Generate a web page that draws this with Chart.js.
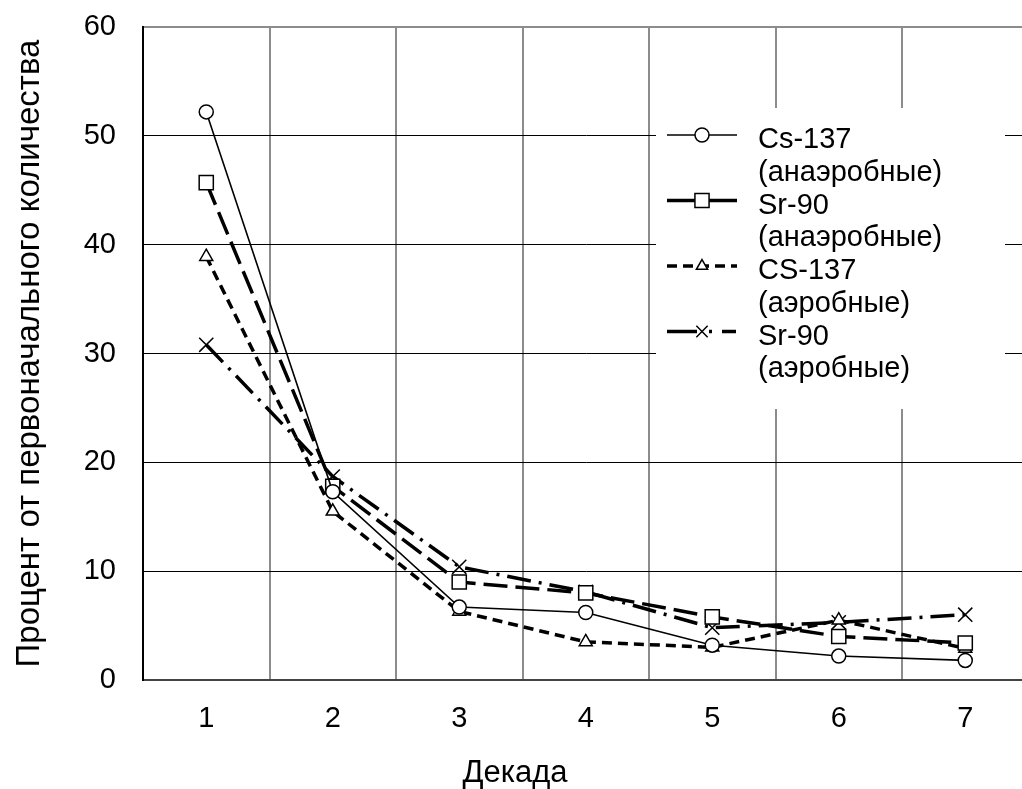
<!DOCTYPE html>
<html>
<head>
<meta charset="utf-8">
<script src="https://cdn.jsdelivr.net/npm/chart.js@4.4.1/dist/chart.umd.min.js"></script>
<style>
  html, body { margin: 0; padding: 0; background: #fff; overflow: hidden; }
  #wrap { width: 1040px; height: 789px; }
</style>
</head>
<body>
<div id="wrap"><canvas id="decayChart" width="1040" height="789"></canvas></div>
<script>
// --- данные ---
const decades = ['1', '2', '3', '4', '5', '6', '7'];
const yTicks = [0, 10, 20, 30, 40, 50, 60];

const cs137Anaerobic = [52.2, 17.3, 6.7, 6.2, 3.2, 2.2, 1.8];
const sr90Anaerobic  = [45.7, 17.8, 9.0, 8.0, 5.8, 4.0, 3.4];
const cs137Aerobic   = [38.9, 15.5, 6.3, 3.5, 3.0, 5.5, 2.9];
const sr90Aerobic    = [30.8, 18.7, 10.4, 8.1, 4.8, 5.3, 6.0];

const legendLines = [
    ['Cs-137', '(анаэробные)'],
    ['Sr-90', '(анаэробные)'],
    ['CS-137', '(аэробные)'],
    ['Sr-90', '(аэробные)']
];
const xTitle = 'Декада';

const FONT = '"Liberation Sans", Arial, sans-serif';

function makeSet(label, data, dash, width, style, radius) {
    return {
        label: label,
        data: data,
        borderColor: '#000',
        borderWidth: width,
        borderDash: dash,
        backgroundColor: '#fff',
        pointStyle: style,
        pointRadius: radius,
        pointHoverRadius: radius,
        pointBorderColor: '#000',
        pointBackgroundColor: '#fff',
        pointBorderWidth: 1.5,
        tension: 0,
        fill: false
    };
}

// легенда и подпись оси X рисуются вручную
const legendBox = {
    id: 'legendBox',
    afterDraw(chart) {
        const ctx = chart.ctx;
        ctx.save();
        ctx.fillStyle = '#fff';
        ctx.fillRect(656, 108, 349, 301);
        chart.data.datasets.forEach((ds, i) => {
            const textY = 140 + i * 65.5;
            const lineY = textY - 5;
            ctx.strokeStyle = '#000';
            ctx.lineWidth = ds.borderWidth;
            ctx.setLineDash(ds.legendDash || ds.borderDash || []);
            ctx.beginPath();
            ctx.moveTo(667, lineY);
            ctx.lineTo(737, lineY);
            ctx.stroke();
            ctx.setLineDash([]);
            ctx.fillStyle = '#fff';
            ctx.strokeStyle = '#000';
            ctx.lineWidth = 1.5;
            Chart.helpers.drawPoint(ctx, {
                pointStyle: ds.pointStyle,
                radius: ds.legendRadius || ds.pointRadius,
                borderWidth: 1.5
            }, 702, lineY);
            ctx.fillStyle = '#000';
            ctx.font = '29px ' + FONT;
            ctx.textBaseline = 'middle';
            ctx.textAlign = 'left';
            ctx.fillText(legendLines[i][0], 758, textY);
            ctx.fillText(legendLines[i][1], 758, textY + 32.7);
        });
        ctx.font = '31px ' + FONT;
        ctx.textAlign = 'center';
        ctx.textBaseline = 'middle';
        ctx.fillStyle = '#000';
        ctx.fillText(xTitle, 515, 773);
        ctx.restore();
    }
};

const sets = [
    makeSet('Cs-137 (анаэробные)', cs137Anaerobic, [], 1.6, 'circle', 7),
    makeSet('Sr-90 (анаэробные)', sr90Anaerobic, [24, 8], 3.5, 'rect', 10),
    makeSet('CS-137 (аэробные)', cs137Aerobic, [10, 6], 3.5, 'triangle', 7.5),
    makeSet('Sr-90 (аэробные)', sr90Aerobic, [24, 8, 3, 8], 3.5, 'crossRot', 10)
];
sets[1].legendDash = [];
sets[3].legendDash = [30, 12, 3, 10, 14, 30];
sets[3].legendRadius = 8;
sets[2].legendRadius = 6.5;

new Chart(document.getElementById('decayChart'), {
    type: 'line',
    data: { labels: decades, datasets: sets },
    options: {
        responsive: false,
        animation: false,
        devicePixelRatio: 1,
        layout: { padding: { top: 27, right: 6, bottom: 0, left: 0 } },
        plugins: {
            legend: { display: false },
            tooltip: { enabled: false }
        },
        scales: {
            x: {
                offset: true,
                grid: {
                    offset: true,
                    drawTicks: false,
                    color: '#8c8c8c',
                    lineWidth: 2
                },
                border: { display: true, color: '#444', width: 2 },
                ticks: {
                    color: '#000',
                    padding: 22,
                    font: { family: FONT, size: 29 }
                },
                afterFit(scale) {
                    scale.height = 109;
                    scale.paddingLeft = 0;
                    scale.paddingRight = 0;
                }
            },
            y: {
                min: 0,
                max: 60,
                afterBuildTicks(scale) { scale.ticks = yTicks.map(v => ({ value: v })); },
                grid: {
                    drawTicks: false,
                    color: (c) => c.tick.value === 60 ? '#8c8c8c' : (c.tick.value === 0 ? 'rgba(0,0,0,0)' : '#000'),
                    lineWidth: (c) => c.tick.value === 60 ? 2 : 1
                },
                border: { display: true, color: '#000', width: 2 },
                ticks: {
                    color: '#000',
                    padding: 27,
                    font: { family: FONT, size: 29 }
                },
                title: {
                    display: true,
                    text: 'Процент от первоначального количества',
                    color: '#000',
                    font: { family: FONT, size: 33 },
                    padding: { top: 10, bottom: 0 }
                },
                afterFit(scale) {
                    scale.width = 143;
                    scale.paddingTop = 0;
                    scale.paddingBottom = 0;
                }
            }
        }
    },
    plugins: [legendBox]
});
</script>
</body>
</html>
